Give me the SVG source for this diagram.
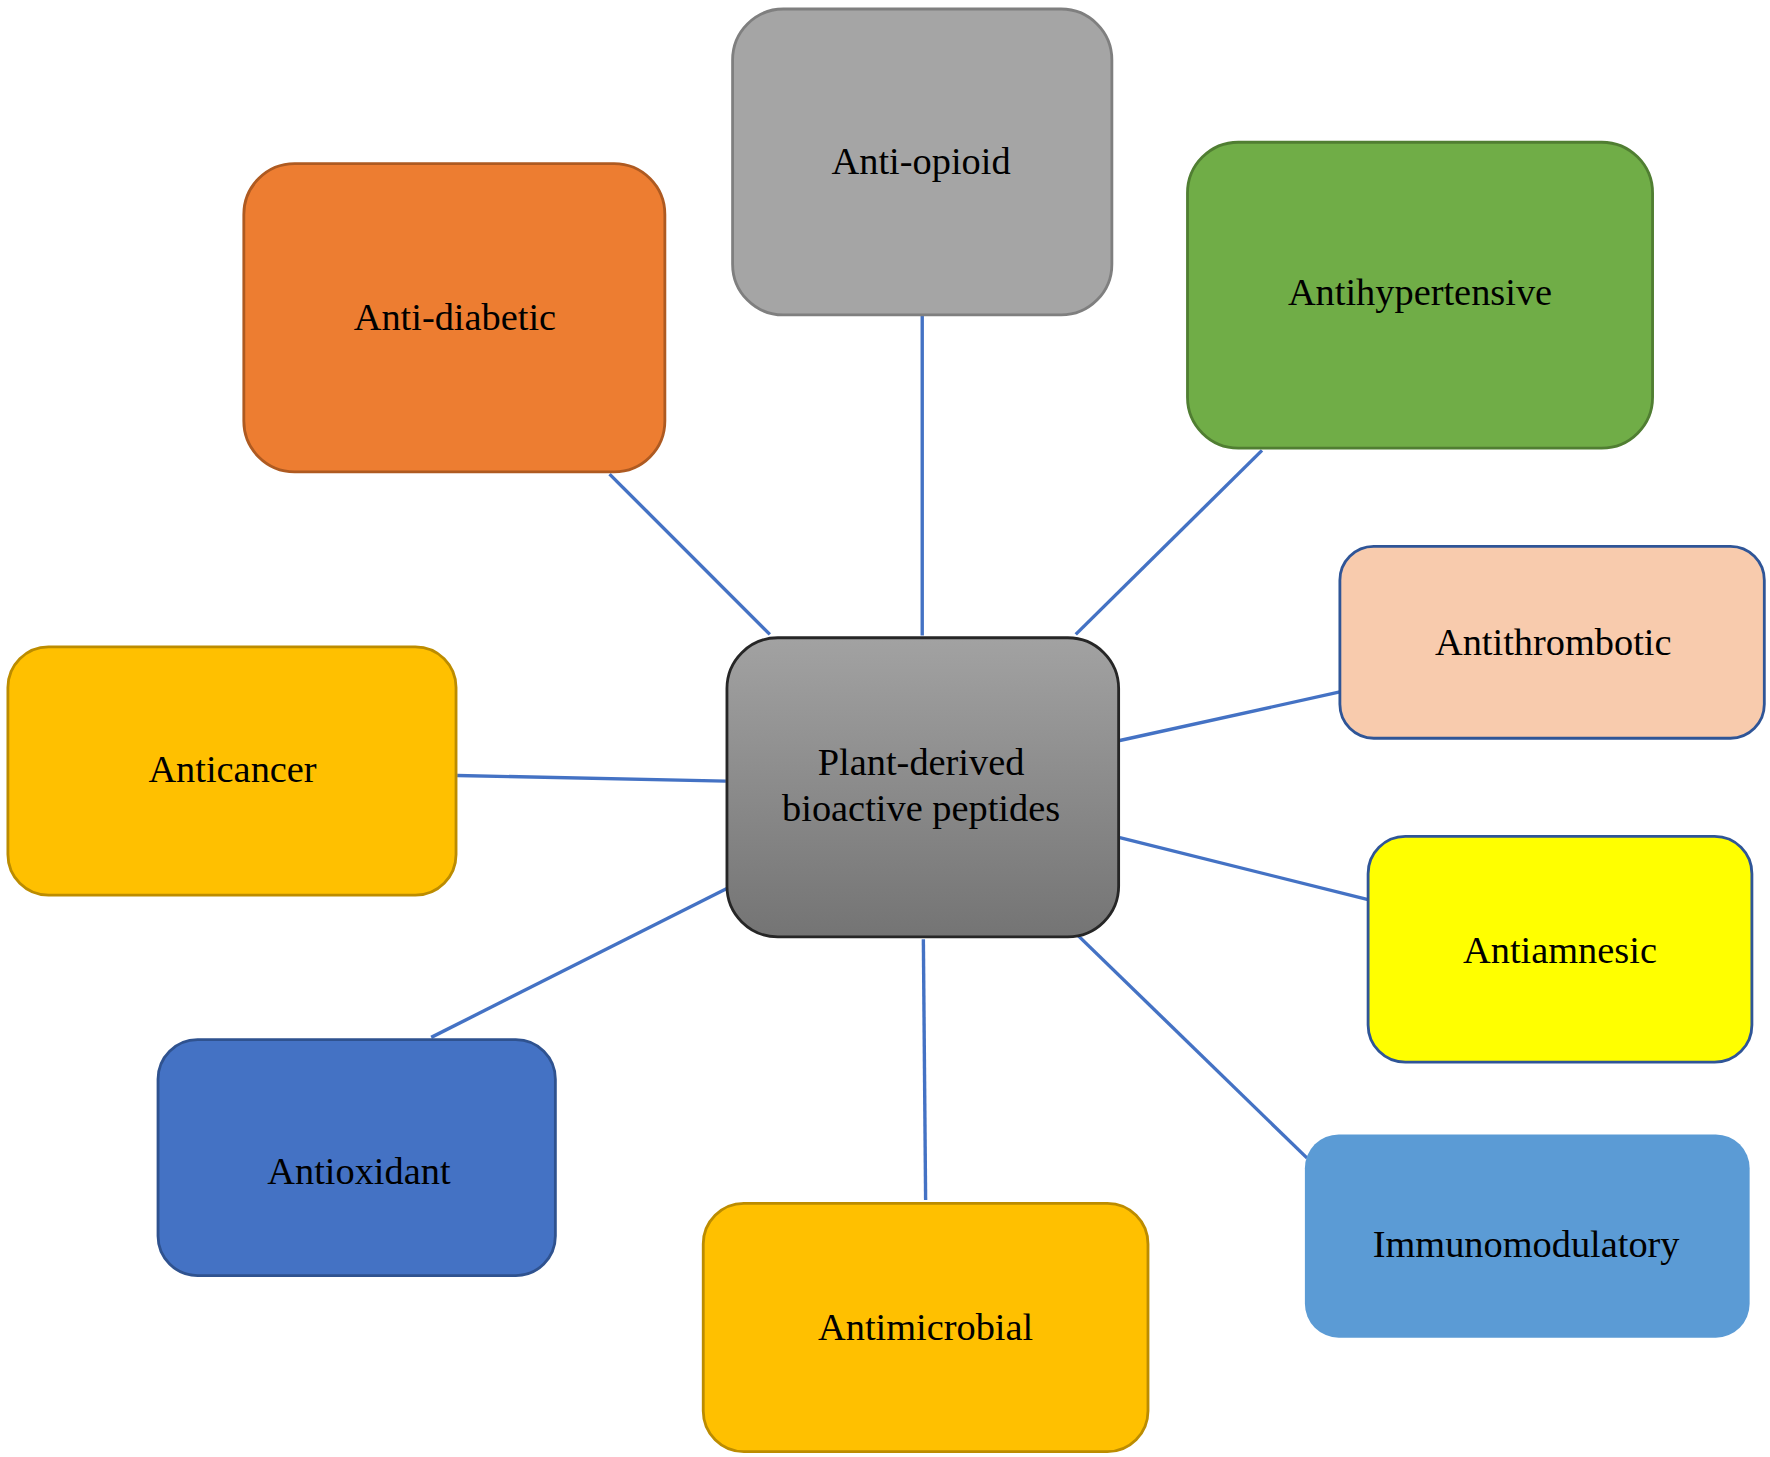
<svg xmlns="http://www.w3.org/2000/svg" width="1770" height="1457" viewBox="0 0 1770 1457">
<style>
text{font-family:"Liberation Serif","Times New Roman",serif;font-size:34px;fill:#000;text-anchor:middle;dominant-baseline:central}
.c line{stroke:#4472C4;stroke-width:3}
rect{stroke-width:2.5}
</style>
<defs><linearGradient id="g" x1="0" y1="0" x2="0" y2="1"><stop offset="0" stop-color="#A2A2A2"/><stop offset="1" stop-color="#747474"/></linearGradient></defs>
<rect width="1770" height="1457" fill="#fff"/>
<g transform="scale(1.1288)">
<g class="c" id="connectors">
<line x1="540" y1="420" x2="682" y2="562"/>
<line x1="817" y1="280" x2="817" y2="563"/>
<line x1="1118" y1="399" x2="953" y2="562"/>
<line x1="1187" y1="613" x2="992" y2="656"/>
<line x1="405" y1="687" x2="643" y2="692"/>
<line x1="992" y1="742" x2="1212" y2="797"/>
<line x1="658" y1="780" x2="382" y2="919"/>
<line x1="818" y1="832" x2="820" y2="1063"/>
<line x1="946" y1="820" x2="1158" y2="1026"/>
</g>
<g id="opioid"><rect x="649" y="8" width="336" height="271" rx="45" fill="#A5A5A5" stroke="#7F7F7F"/><text x="816" y="143">Anti-opioid</text></g>
<g id="diabetic"><rect x="216" y="145" width="373" height="273" rx="45" fill="#ED7D31" stroke="#AE5A21"/><text x="403" y="281">Anti-diabetic</text></g>
<g id="hyper"><rect x="1052" y="126" width="412" height="271" rx="45" fill="#70AD47" stroke="#507E32"/><text x="1258" y="259">Antihypertensive</text></g>
<g id="thromb"><rect x="1187" y="484" width="376" height="170" rx="30" fill="#F8CBAD" stroke="#2F5597"/><text x="1376" y="569">Antithrombotic</text></g>
<g id="cancer"><rect x="7" y="573" width="397" height="220" rx="36" fill="#FFC000" stroke="#BC8C00"/><text x="206" y="681">Anticancer</text></g>
<g id="center"><rect x="644" y="565" width="347" height="265" rx="45" fill="url(#g)" stroke="#262626"/><text x="816" y="675">Plant-derived</text><text x="816" y="716">bioactive peptides</text></g>
<g id="amnesic"><rect x="1212" y="741" width="340" height="200" rx="33" fill="#FFFF00" stroke="#2F5597"/><text x="1382" y="842">Antiamnesic</text></g>
<g id="oxidant"><rect x="140" y="921" width="352" height="209" rx="35" fill="#4472C4" stroke="#2F528F"/><text x="318" y="1037">Antioxidant</text></g>
<g id="microbial"><rect x="623" y="1066" width="394" height="220" rx="36" fill="#FFC000" stroke="#BC8C00"/><text x="820" y="1176">Antimicrobial</text></g>
<g id="immuno"><rect x="1156" y="1005" width="394" height="180" rx="30" fill="#5B9BD5" stroke="none"/><text x="1352" y="1102">Immunomodulatory</text></g>
</g>
</svg>
